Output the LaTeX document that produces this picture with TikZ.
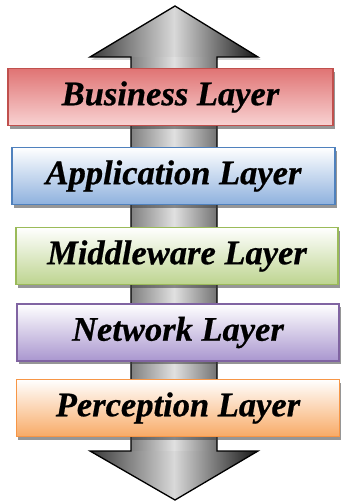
\documentclass[tikz,border=0pt]{standalone}
\usepackage{fontspec}
\setmainfont[BoldItalicFeatures={FakeBold=0.6}]{Liberation Serif}
\usetikzlibrary{shadows,calc}

% Office-style layer palette
\definecolor{busEdge}{HTML}{C0504D}
\definecolor{busTop}{HTML}{E07474}
\definecolor{busBot}{HTML}{F8D2D2}
\definecolor{appEdge}{HTML}{4F81BD}
\definecolor{appBot}{HTML}{8EB1DE}
\definecolor{midEdge}{HTML}{9BBB59}
\definecolor{midBot}{HTML}{BDD48F}
\definecolor{netEdge}{HTML}{8064A2}
\definecolor{netBot}{HTML}{A996CF}
\definecolor{perEdge}{HTML}{F79646}
\definecolor{perBot}{HTML}{F8AA66}

\tikzset{
  layer/.style={
    rectangle, inner sep=0pt, line width=1.2pt,
    minimum width=#1, minimum height=57pt,
    font=\fontsize{34.5}{36}\selectfont\bfseries\itshape,
    text=black,
    drop shadow={shadow xshift=1.6pt, shadow yshift=-3pt, opacity=0.55, fill=black!75}
  },
  arrowhead/.style={left color=black!78, right color=black!92, middle color=black!15,
    shading=axis},
  arrowshaft/.style={left color=black!50, right color=black!55, middle color=black!12,
    shading=axis},
}

\begin{document}
\begin{tikzpicture}[x=1pt, y=-1pt]
  \useasboundingbox (0,0) rectangle (342,503);

  % double-headed vertical arrow behind the layers
  \coordinate (tipT) at (175,6);
  \coordinate (tipB) at (175,500);

  % shadow of the arrow heads
  \fill[black!30, opacity=0.6]
    ($(tipT)+(2,3)$) -- (261,60) -- (91,60) -- cycle;

  % shaft
  \fill[arrowshaft] (131,56) rectangle (217,452);
  % heads
  \fill[arrowhead] (tipT) -- (258,57) -- (217,57) -- (131,57) -- (90,57) -- cycle;
  \fill[arrowhead] (tipB) -- (258,451) -- (217,451) -- (131,451) -- (90,451) -- cycle;
  % outline
  \draw[line width=1.3pt, line join=miter]
    (tipT) -- (258,57) -- (217,57) -- (217,451) -- (258,451) -- (tipB)
    -- (90,451) -- (131,451) -- (131,57) -- (90,57) -- cycle;

  % the five layers
  \node[layer=325pt, draw=busEdge, top color=busTop, bottom color=busBot]
    (bus) at (170.5,97) {Business Layer};
  \node[layer=323pt, draw=appEdge, top color=white, bottom color=appBot]
    (app) at (173.5,176) {Application Layer};
  \node[layer=322pt, draw=midEdge, top color=white, bottom color=midBot]
    (mid) at (177,256) {Middleware Layer};
  \node[layer=322pt, draw=netEdge, top color=white, bottom color=netBot]
    (net) at (178,332.5) {Network Layer};
  \node[layer=323pt, draw=perEdge, top color=white, bottom color=perBot]
    (per) at (178,408) {Perception Layer};
\end{tikzpicture}
\end{document}
